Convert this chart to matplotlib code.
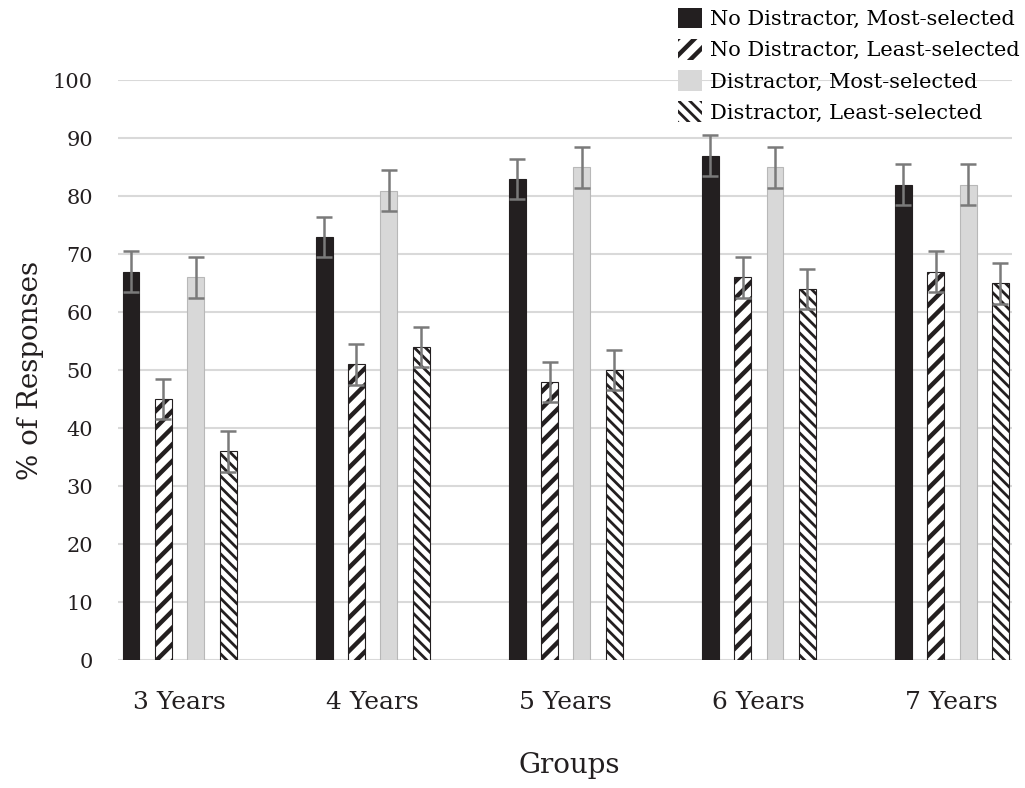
import numpy as np
import matplotlib.pyplot as plt
from matplotlib.patches import Patch

plt.rcParams['font.family'] = ['DejaVu Serif']

groups = ['3 Years', '4 Years', '5 Years', '6 Years', '7 Years']
series = ['No Distractor, Most-selected', 'No Distractor, Least-selected',
          'Distractor, Most-selected', 'Distractor, Least-selected']
nd_most = [67, 73, 83, 87, 82]
nd_least = [45, 51, 48, 66, 67]
d_most = [66, 81, 85, 85, 82]
d_least = [36, 54, 50, 64, 65]
err = [3.5, 3.5, 3.5, 3.5, 3.5]

values = [nd_most, nd_least, d_most, d_least]
faces = ['#231f20', 'white', '#d8d8d8', 'white']
edges = ['#231f20', '#231f20', '#b8b8b8', '#231f20']
hatches = [None, '//', None, '\\\\\\']
hatch_lw = [1, 3.2, 1, 2.0]
ink = '#231f20'

fig = plt.figure(figsize=(10.25, 7.88), dpi=100)
ax = fig.add_axes([0.115, 0.1624, 0.872, 0.7356])

x = np.arange(len(groups))
width = 0.088
step = 0.168
offsets = (np.arange(4) - 1.5) * step

for i in range(4):
    with plt.rc_context({'hatch.linewidth': hatch_lw[i], 'hatch.color': ink}):
        ax.bar(x + offsets[i], values[i], width, color=faces[i], edgecolor=edges[i],
               hatch=hatches[i], linewidth=0.8, zorder=3)
    ax.errorbar(x + offsets[i], values[i], yerr=err, fmt='none', ecolor='#7a7a7a',
                elinewidth=1.8, capsize=6, capthick=1.8, zorder=4)

ax.set_ylim(0, 100)
ax.set_xlim(-0.32, 4.31)
ax.set_yticks(np.arange(0, 101, 10))
ax.yaxis.grid(True, color='#d9d9d9', linewidth=1.5, zorder=0)
ax.set_axisbelow(True)
for s in ax.spines.values():
    s.set_visible(False)
ax.tick_params(axis='y', length=0, pad=18, labelsize=15, colors=ink)
ax.tick_params(axis='x', length=0, pad=22, labelsize=18, colors=ink)
ax.set_xticks(x)
ax.set_xticklabels(groups)

fig.text(0.03, 0.53, '% of Responses', fontsize=20, color=ink, rotation=90,
         ha='center', va='center')
fig.text(0.555, 0.012, 'Groups', fontsize=20, color=ink, ha='center', va='bottom')

handles = [Patch(facecolor=faces[i], edgecolor=ink if hatches[i] else faces[i],
                 linewidth=0, hatch=hatches[i]) for i in range(4)]
leg = fig.legend(handles, series, loc='upper right', bbox_to_anchor=(1.007, 1.006),
                 frameon=False, fontsize=15, handlelength=1.15, handleheight=1.15,
                 handletextpad=0.4, labelspacing=0.47, borderaxespad=0.2)
# legend handles are rebuilt, so set the hatch width again
for p, lw in zip(leg.get_patches(), hatch_lw):
    if hasattr(p, 'set_hatch_linewidth'):
        p.set_hatch_linewidth(lw)
    else:
        p._hatch_linewidth = lw

fig.savefig('out.png', dpi=100)
